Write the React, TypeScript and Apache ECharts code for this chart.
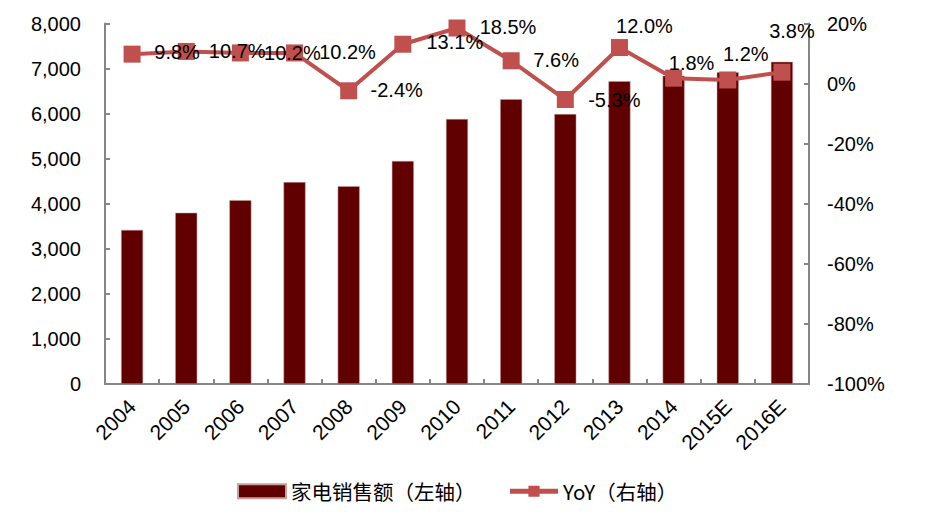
import React, { useEffect, useRef } from "react";
import * as echarts from "echarts";

const categories = ["2004", "2005", "2006", "2007", "2008", "2009", "2010", "2011", "2012", "2013", "2014", "2015E", "2016E"];
const salesValues = [3420, 3800, 4080, 4480, 4390, 4950, 5880, 6320, 5990, 6720, 6840, 6920, 7150];
const yoyValues = [9.8, 10.7, 10.2, 10.2, -2.4, 13.1, 18.5, 7.6, -5.3, 12.0, 1.8, 1.2, 3.8];
const leftTicks = { min: 0, max: 8000, interval: 1000 };
const rightTicks = { min: -100, max: 20, interval: 20 };
const labelOffsets: [number, number][] = [
  [45, -2], [51, 0], [52, 0], [53, -1], [48, -1], [52, -2], [51, -1],
  [45, -1], [49, 0], [25, -22], [18, -15], [18, -26], [10, -41],
];

const FONT = "'Liberation Sans', Arial, sans-serif";

export default function App() {
  const ref = useRef<HTMLDivElement>(null);
  useEffect(() => {
    if (!ref.current) return;
    const chart = echarts.init(ref.current, undefined, { renderer: "svg" });
    chart.setOption({
      animation: false,
      backgroundColor: "#ffffff",
      grid: { left: 105, right: 130, top: 23.5, bottom: 131 },
      legend: {
        left: 232,
        top: 476,
        itemGap: 32,
        itemWidth: 48,
        itemHeight: 14,
        textStyle: { fontFamily: "'Noto Sans CJK SC', sans-serif", fontSize: 20.5, color: "#000" },
        data: [
          { name: "家电销售额（左轴）", icon: "rect", itemStyle: { color: "#600000" } },
          { name: "YoY（右轴）", lineStyle: { width: 5, color: "#C0504D" }, itemStyle: { color: "#C0504D" } },
        ],
      },
      xAxis: {
        type: "category",
        data: categories,
        axisLine: { lineStyle: { color: "#868686", width: 2 } },
        axisTick: { show: true, inside: true, length: 5, alignWithLabel: false, lineStyle: { color: "#868686", width: 2 } },
        axisLabel: { rotate: 45, margin: 19, interval: 0, color: "#000", fontSize: 21, fontFamily: FONT },
      },
      yAxis: [
        {
          type: "value",
          min: leftTicks.min,
          max: leftTicks.max,
          interval: leftTicks.interval,
          splitLine: { show: false },
          axisLine: { show: true, lineStyle: { color: "#868686", width: 2 } },
          axisTick: { show: true, inside: true, length: 5, lineStyle: { color: "#868686", width: 2 } },
          axisLabel: {
            color: "#000",
            fontSize: 20,
            fontFamily: FONT,
            margin: 24,
            formatter: (v: number) => v.toLocaleString("en-US"),
          },
        },
        {
          type: "value",
          min: rightTicks.min,
          max: rightTicks.max,
          interval: rightTicks.interval,
          splitLine: { show: false },
          axisLine: { show: true, lineStyle: { color: "#868686", width: 2 } },
          axisTick: { show: true, inside: true, length: 5, lineStyle: { color: "#868686", width: 2 } },
          axisLabel: { color: "#000", fontSize: 20, fontFamily: FONT, margin: 18, formatter: "{value}%" },
        },
      ],
      series: [
        {
          name: "家电销售额（左轴）",
          type: "bar",
          data: salesValues,
          barWidth: 22,
          itemStyle: { color: "#600000", borderColor: "#c9a0a0", borderWidth: 0.5 },
        },
        {
          name: "YoY（右轴）",
          type: "line",
          yAxisIndex: 1,
          data: yoyValues.map((v, i) => ({
            value: v,
            label: { offset: labelOffsets[i] },
          })),
          symbol: "rect",
          symbolSize: 17,
          lineStyle: { color: "#C0504D", width: 4 },
          itemStyle: { color: "#C0504D" },
          label: {
            show: true,
            position: "inside",
            color: "#000",
            fontSize: 20,
            fontFamily: FONT,
            formatter: (p: any) => p.value.toFixed(1) + "%",
          },
        },
      ],
    });
    return () => chart.dispose();
  }, []);
  return <div ref={ref} style={{ width: 939, height: 515, position: "absolute", left: 0, top: 0 }} />;
}
